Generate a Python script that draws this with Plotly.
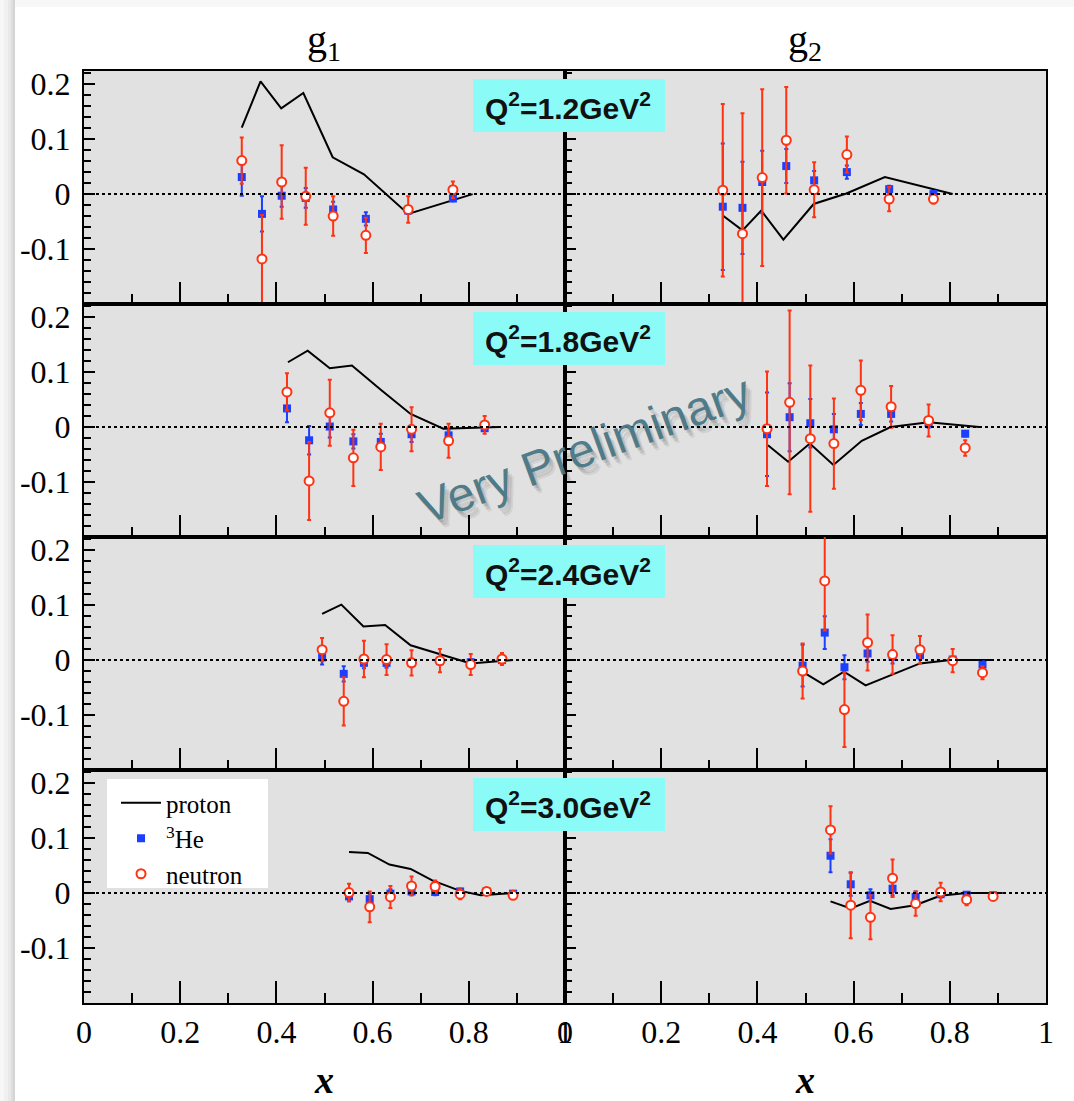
import plotly.graph_objects as go
from plotly.subplots import make_subplots

# ---------------- data ----------------
Q2_LABELS = ["1.2", "1.8", "2.4", "3.0"]
COLUMN_TITLES = ["g<sub>1</sub>", "g<sub>2</sub>"]
X_TICKS = [0, 0.2, 0.4, 0.6, 0.8, 1]
X_TICK_TEXT = ["0", "0.2", "0.4", "0.6", "0.8", "1"]
Y_TICKS = [-0.1, 0, 0.1, 0.2]
Y_TICK_TEXT = ["-0.1", "0", "0.1", "0.2"]

# g1, Q2 = 1.2
g1_q12_proton_x = [0.328, 0.367, 0.410, 0.456, 0.517, 0.582, 0.674, 0.808]
g1_q12_proton_y = [0.121, 0.205, 0.156, 0.184, 0.067, 0.036, -0.036, 0.000]
g1_q12_x = [0.328, 0.370, 0.411, 0.461, 0.518, 0.586, 0.674, 0.767]
g1_q12_he = [0.031, -0.036, -0.003, -0.007, -0.028, -0.045, -0.030, -0.008]
g1_q12_he_err = [0.034, 0.032, 0.020, 0.018, 0.014, 0.012, 0.006, 0.005]
g1_q12_n = [0.061, -0.118, 0.022, -0.004, -0.040, -0.075, -0.028, 0.008]
g1_q12_n_err = [0.042, 0.080, 0.067, 0.052, 0.036, 0.032, 0.024, 0.015]

# g2, Q2 = 1.2
g2_q12_proton_x = [0.328, 0.369, 0.408, 0.454, 0.517, 0.585, 0.665, 0.806]
g2_q12_proton_y = [-0.039, -0.066, -0.030, -0.083, -0.018, 0.001, 0.031, 0.000]
g2_q12_x = [0.328, 0.369, 0.410, 0.460, 0.518, 0.586, 0.674, 0.766]
g2_q12_he = [-0.023, -0.025, 0.022, 0.051, 0.025, 0.040, 0.009, 0.000]
g2_q12_he_err = [0.115, 0.084, 0.057, 0.031, 0.017, 0.012, 0.006, 0.005]
g2_q12_n = [0.007, -0.072, 0.030, 0.098, 0.008, 0.072, -0.009, -0.009]
g2_q12_n_err = [0.157, 0.219, 0.161, 0.097, 0.050, 0.033, 0.022, 0.008]

# g1, Q2 = 1.8
g1_q18_proton_x = [0.424, 0.465, 0.511, 0.557, 0.617, 0.679, 0.747, 0.863]
g1_q18_proton_y = [0.118, 0.139, 0.107, 0.112, 0.068, 0.024, -0.003, 0.000]
g1_q18_x = [0.422, 0.468, 0.511, 0.560, 0.617, 0.681, 0.758, 0.833]
g1_q18_he = [0.034, -0.024, 0.001, -0.026, -0.027, -0.013, -0.015, -0.002]
g1_q18_he_err = [0.025, 0.026, 0.020, 0.013, 0.015, 0.014, 0.010, 0.005]
g1_q18_n = [0.064, -0.098, 0.026, -0.056, -0.036, -0.004, -0.025, 0.004]
g1_q18_n_err = [0.034, 0.071, 0.060, 0.051, 0.042, 0.040, 0.031, 0.016]

# g2, Q2 = 1.8
g2_q18_proton_x = [0.422, 0.464, 0.509, 0.558, 0.617, 0.677, 0.756, 0.861]
g2_q18_proton_y = [-0.033, -0.063, -0.030, -0.069, -0.025, 0.000, 0.009, 0.000]
g2_q18_x = [0.420, 0.467, 0.510, 0.559, 0.615, 0.678, 0.756, 0.832]
g2_q18_he = [-0.013, 0.018, 0.007, -0.004, 0.024, 0.024, 0.007, -0.012]
g2_q18_he_err = [0.076, 0.062, 0.044, 0.028, 0.020, 0.014, 0.008, 0.005]
g2_q18_n = [-0.003, 0.045, -0.021, -0.030, 0.067, 0.037, 0.012, -0.038]
g2_q18_n_err = [0.104, 0.167, 0.133, 0.082, 0.054, 0.038, 0.029, 0.014]

# g1, Q2 = 2.4
g1_q24_proton_x = [0.495, 0.535, 0.581, 0.626, 0.679, 0.742, 0.804, 0.892]
g1_q24_proton_y = [0.084, 0.101, 0.061, 0.064, 0.027, 0.011, -0.006, 0.000]
g1_q24_x = [0.495, 0.540, 0.582, 0.629, 0.681, 0.740, 0.804, 0.869]
g1_q24_he = [0.005, -0.025, -0.005, -0.005, -0.005, -0.002, -0.004, 0.000]
g1_q24_he_err = [0.013, 0.014, 0.010, 0.009, 0.008, 0.007, 0.006, 0.005]
g1_q24_n = [0.019, -0.075, 0.002, 0.001, -0.005, -0.001, -0.008, 0.002]
g1_q24_n_err = [0.021, 0.044, 0.033, 0.028, 0.023, 0.021, 0.019, 0.011]

# g2, Q2 = 2.4
g2_q24_proton_x = [0.495, 0.537, 0.580, 0.625, 0.679, 0.738, 0.802, 0.890]
g2_q24_proton_y = [-0.022, -0.044, -0.021, -0.046, -0.027, -0.006, 0.000, 0.000]
g2_q24_x = [0.494, 0.540, 0.581, 0.629, 0.681, 0.738, 0.806, 0.868]
g2_q24_he = [-0.010, 0.050, -0.013, 0.012, 0.006, 0.009, 0.001, -0.008]
g2_q24_he_err = [0.038, 0.030, 0.022, 0.015, 0.012, 0.008, 0.005, 0.005]
g2_q24_n = [-0.020, 0.144, -0.090, 0.032, 0.010, 0.019, -0.001, -0.023]
g2_q24_n_err = [0.050, 0.090, 0.068, 0.051, 0.035, 0.025, 0.021, 0.012]

# g1, Q2 = 3.0
g1_q30_proton_x = [0.551, 0.590, 0.635, 0.679, 0.724, 0.782, 0.825, 0.892]
g1_q30_proton_y = [0.075, 0.073, 0.052, 0.044, 0.023, 0.004, -0.004, 0.000]
g1_q30_x = [0.551, 0.594, 0.637, 0.681, 0.730, 0.782, 0.837, 0.892]
g1_q30_he = [-0.006, -0.011, -0.001, 0.003, 0.002, 0.003, 0.003, -0.001]
g1_q30_he_err = [0.009, 0.010, 0.008, 0.007, 0.006, 0.005, 0.004, 0.004]
g1_q30_n = [0.001, -0.025, -0.007, 0.013, 0.012, -0.002, 0.003, -0.004]
g1_q30_n_err = [0.016, 0.028, 0.020, 0.017, 0.011, 0.009, 0.005, 0.004]

# g2, Q2 = 3.0
g2_q30_proton_x = [0.552, 0.594, 0.634, 0.677, 0.728, 0.780, 0.835, 0.910]
g2_q30_proton_y = [-0.015, -0.028, -0.014, -0.029, -0.022, -0.005, 0.000, 0.000]
g2_q30_x = [0.552, 0.594, 0.635, 0.681, 0.729, 0.781, 0.835, 0.890]
g2_q30_he = [0.068, 0.016, -0.004, 0.008, -0.007, -0.002, -0.003, -0.004]
g2_q30_he_err = [0.030, 0.021, 0.011, 0.012, 0.010, 0.006, 0.005, 0.004]
g2_q30_n = [0.115, -0.022, -0.044, 0.027, -0.019, 0.002, -0.012, -0.006]
g2_q30_n_err = [0.043, 0.060, 0.040, 0.034, 0.022, 0.017, 0.010, 0.005]

# panel table built from the arrays above: (row, col) -> data
panels = [
    (1, 1, g1_q12_proton_x, g1_q12_proton_y, g1_q12_x, g1_q12_he, g1_q12_he_err, g1_q12_n, g1_q12_n_err),
    (1, 2, g2_q12_proton_x, g2_q12_proton_y, g2_q12_x, g2_q12_he, g2_q12_he_err, g2_q12_n, g2_q12_n_err),
    (2, 1, g1_q18_proton_x, g1_q18_proton_y, g1_q18_x, g1_q18_he, g1_q18_he_err, g1_q18_n, g1_q18_n_err),
    (2, 2, g2_q18_proton_x, g2_q18_proton_y, g2_q18_x, g2_q18_he, g2_q18_he_err, g2_q18_n, g2_q18_n_err),
    (3, 1, g1_q24_proton_x, g1_q24_proton_y, g1_q24_x, g1_q24_he, g1_q24_he_err, g1_q24_n, g1_q24_n_err),
    (3, 2, g2_q24_proton_x, g2_q24_proton_y, g2_q24_x, g2_q24_he, g2_q24_he_err, g2_q24_n, g2_q24_n_err),
    (4, 1, g1_q30_proton_x, g1_q30_proton_y, g1_q30_x, g1_q30_he, g1_q30_he_err, g1_q30_n, g1_q30_n_err),
    (4, 2, g2_q30_proton_x, g2_q30_proton_y, g2_q30_x, g2_q30_he, g2_q30_he_err, g2_q30_n, g2_q30_n_err),
]

# ---------------- style / layout ----------------
W, H = 1074, 1101
ML, MR, MT, MB = 84, 28, 71, 98
PW, PH = W - ML - MR, H - MT - MB

def px(p):
    return (p - ML) / PW

def py(p):
    return (H - MB - p) / PH

SERIF = "Liberation Serif"
SANS = "Liberation Sans"
RED = "#ff3212"
BLUE = "#1b3fff"
CYAN = "#8bfbf8"

fig = make_subplots(rows=4, cols=2, horizontal_spacing=0, vertical_spacing=0)

for i, (r, c, pxs, pys, xs, he, he_err, nn, nn_err) in enumerate(panels):
    first = i == 0
    fig.add_trace(go.Scatter(x=pxs, y=pys, mode="lines", name="proton",
                             line=dict(color="black", width=2),
                             showlegend=first, legendrank=1), row=r, col=c)
    fig.add_trace(go.Scatter(x=xs, y=he, mode="markers", name="<sup>3</sup>He",
                             marker=dict(symbol="square", size=8, color=BLUE),
                             error_y=dict(type="data", array=he_err, color=BLUE,
                                          thickness=2, width=2),
                             showlegend=first, legendrank=2), row=r, col=c)
    fig.add_trace(go.Scatter(x=xs, y=nn, mode="markers", name="neutron",
                             marker=dict(symbol="circle", size=9, color="white",
                                         line=dict(color=RED, width=2)),
                             error_y=dict(type="data", array=nn_err, color=RED,
                                          thickness=2, width=2),
                             showlegend=first, legendrank=3), row=r, col=c)

shapes = []
for k in range(1, 9):
    r = (k - 1) // 2 + 1
    c = (k - 1) % 2 + 1
    fig.update_xaxes(row=r, col=c, range=[0, 1], showgrid=False, zeroline=False,
                     showline=True, mirror=True, linecolor="black", linewidth=2,
                     ticks="inside", ticklen=22, tickwidth=2, tickcolor="black",
                     tickvals=X_TICKS, ticktext=X_TICK_TEXT,
                     minor=dict(dtick=0.1, tick0=0, ticks="inside", ticklen=10,
                                tickwidth=2, tickcolor="black", showgrid=False),
                     showticklabels=(r == 4), ticklabelstandoff=0,
                     tickfont=dict(family=SERIF, size=32, color="black"))
    fig.update_yaxes(row=r, col=c, range=[-0.2, 0.224], showgrid=False, zeroline=False,
                     showline=True, mirror=True, linecolor="black", linewidth=2,
                     ticks="inside", ticklen=11, tickwidth=2, tickcolor="black",
                     tickvals=Y_TICKS, ticktext=Y_TICK_TEXT,
                     minor=dict(dtick=0.02, tick0=0, ticks="inside", ticklen=7,
                                tickwidth=2, tickcolor="black", showgrid=False),
                     showticklabels=(c == 1), ticklabelstandoff=5,
                     tickfont=dict(family=SERIF, size=32, color="black"))
    suffix = "" if k == 1 else str(k)
    shapes.append(dict(type="line", xref=f"x{suffix} domain", x0=0, x1=1,
                       yref=f"y{suffix}", y0=0, y1=0,
                       line=dict(color="black", width=2, dash="dot"), layer="above"))

annotations = []
row_tops = [71, 304, 537, 770]
for q, top in zip(Q2_LABELS, row_tops):
    shapes.append(dict(type="rect", xref="paper", yref="paper",
                       x0=px(473), x1=px(665), y0=py(top + 61), y1=py(top + 8),
                       fillcolor=CYAN, line=dict(width=0), layer="above"))
    annotations.append(dict(xref="paper", yref="paper", x=px(568), y=py(top + 35),
                            text=f"<b>Q<sup>2</sup>={q}GeV<sup>2</sup></b>",
                            showarrow=False, xanchor="center", yanchor="middle",
                            font=dict(family=SANS, size=30, color="#111111")))

# white legend panel
shapes.append(dict(type="rect", xref="paper", yref="paper",
                   x0=px(107), x1=px(268), y0=py(888), y1=py(779),
                   fillcolor="white", line=dict(width=0), layer="above"))

# column titles and axis titles
for title, cx in zip(COLUMN_TITLES, [324, 805]):
    annotations.append(dict(xref="paper", yref="paper", x=px(cx), y=py(42),
                            text=title, showarrow=False, xanchor="center", yanchor="middle",
                            font=dict(family=SERIF, size=40, color="black")))
    annotations.append(dict(xref="paper", yref="paper", x=px(cx), y=py(1080),
                            text="<b><i>x</i></b>", showarrow=False,
                            xanchor="center", yanchor="middle",
                            font=dict(family=SERIF, size=38, color="black")))

# watermark with soft shadow
for dx, dy, col in [(6, 7, "rgba(0,0,0,0.07)"), (4, 5, "rgba(0,0,0,0.10)"),
                    (2, 3, "rgba(0,0,0,0.10)"), (0, 0, "rgba(72,118,132,0.95)")]:
    annotations.append(dict(xref="paper", yref="paper", x=px(584 + dx), y=py(450 + dy),
                            text="Very Preliminary", showarrow=False, textangle=-20,
                            xanchor="center", yanchor="middle",
                            font=dict(family=SANS, size=48, color=col)))

# slide shadow at left and top edges
for x0, x1, colr in [(0, 4, "#f7f7f7"), (4, 8, "#f0f0f0"), (8, 11, "#e8e8e8"),
                     (11, 13, "#dedede"), (13, 15, "#d4d4d4")]:
    shapes.append(dict(type="rect", xref="paper", yref="paper",
                       x0=px(x0), x1=px(x1), y0=py(H), y1=py(0),
                       fillcolor=colr, line=dict(width=0), layer="below"))
shapes.append(dict(type="rect", xref="paper", yref="paper",
                   x0=px(15), x1=px(W), y0=py(7), y1=py(0),
                   fillcolor="#f7f7f7", line=dict(width=0), layer="below"))

fig.update_layout(
    width=W, height=H,
    margin=dict(l=ML, r=MR, t=MT, b=MB),
    paper_bgcolor="white", plot_bgcolor="#e1e1e1",
    shapes=shapes, annotations=annotations,
    legend=dict(x=px(116), y=py(780), xanchor="left", yanchor="top",
                bgcolor="rgba(0,0,0,0)", borderwidth=0,
                font=dict(family=SERIF, size=25, color="black"),
                itemwidth=40, tracegroupgap=0,
                traceorder="normal"),
)

fig.write_html("out.html")
